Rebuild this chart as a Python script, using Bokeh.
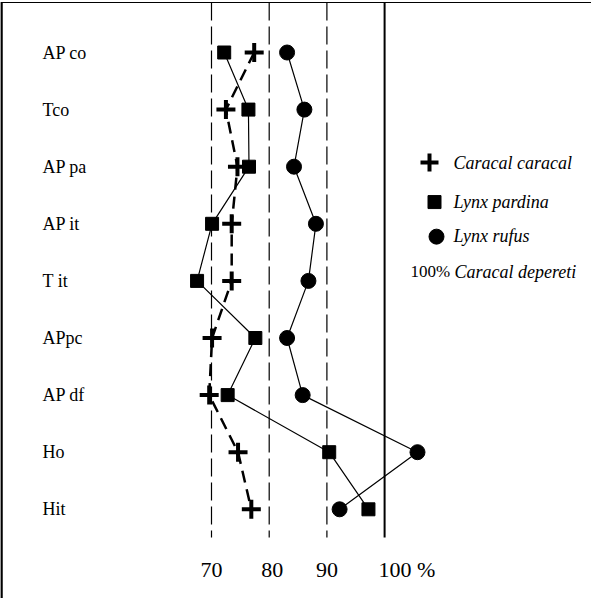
from bokeh.plotting import figure
from bokeh.models import Range1d, ColumnDataSource
from bokeh.core.properties import value
from bokeh.embed import file_html
from bokeh.resources import INLINE

# ---------------- data ----------------
rows = ["AP co", "Tco", "AP pa", "AP it", "T it", "APpc", "AP df", "Ho", "Hit"]
caracal_caracal = [77.4, 72.5, 74.5, 73.5, 73.5, 70.1, 69.6, 74.6, 76.9]
lynx_pardina = [72.2, 76.4, 76.5, 70.1, 67.5, 77.6, 72.8, 90.4, 97.2]
lynx_rufus = [83.1, 86.1, 84.3, 88.1, 86.8, 83.1, 85.8, 105.7, 92.2]
dashed_refs = [70, 80, 90]
solid_ref = [100]
tick_values = [70, 80, 90, 100]
tick_labels = ["70", "80", "90", "100 %"]
legend_names = ["Caracal caracal", "Lynx pardina", "Lynx rufus"]
note_prefix = "100%"
note_species = "Caracal depereti"

# ---------------- layout helpers (page pixels -> data) ----------------
W, H = 591, 598
PX70, PPU = 219.0, 5.77     # x pixel of value 70, pixels per unit
PY0, PPR = 60.0, 57.1       # y pixel of first row, pixels per row


def dx(px):
    return 70 + (px - PX70) / PPU


def dy(py):
    return (py - PY0) / PPR


p = figure(width=W, height=H, output_backend="svg", toolbar_location=None,
           x_range=Range1d(dx(8), dx(8 + W)), y_range=Range1d(dy(8 + H), dy(8)),
           min_border=0, outline_line_color=None)
p.axis.visible = False
p.grid.visible = False
p.background_fill_color = "white"

serif = value("Liberation Serif")
idx = list(range(len(rows)))

# frame lines (left and top)
p.segment(x0=[dx(9), dx(8)], y0=[dy(10), dy(10)], x1=[dx(9), dx(8 + W)], y1=[dy(8 + H), dy(10)],
          line_color="black", line_width=[2.5, 1.2])

# reference lines
top, bottom = dy(10), dy(545)
p.segment(x0=dashed_refs, x1=dashed_refs, y0=[top] * len(dashed_refs), y1=[bottom] * len(dashed_refs),
          line_color="black", line_width=1.2, line_dash="18 6")
p.segment(x0=solid_ref, x1=solid_ref, y0=[top], y1=[bottom], line_color="black", line_width=2)

# series lines
p.line(caracal_caracal, idx, line_color="black", line_width=2.5, line_dash="12 7")
p.line(lynx_pardina, idx, line_color="black", line_width=1.2)
p.line(lynx_rufus, idx, line_color="black", line_width=1.2)

# markers
p.scatter(caracal_caracal, idx, marker="cross", size=19, line_color="black", line_width=4)
p.scatter(lynx_pardina, idx, marker="square", size=13, fill_color="black", line_color="black")
p.scatter(lynx_rufus, idx, marker="circle", size=15, fill_color="black", line_color="black")

# row labels
p.text(x=[dx(50)] * len(rows), y=idx, text=rows, text_font=serif, text_font_size="18px",
       text_align="left", text_baseline="middle", text_color="black")

# tick labels
tick_src = ColumnDataSource(dict(
    x=tick_values, y=[dy(577)] * len(tick_values), t=tick_labels,
    align=["center", "center", "center", "left"],
    xoff=[0, 3, 0, -6]))
p.text(x="x", y="y", text="t", source=tick_src, text_font=serif, text_font_size="22px",
       text_align="align", x_offset="xoff", text_baseline="middle", text_color="black")

# legend (manual)
leg_y = [dy(170), dy(209), dy(243)]
p.scatter([dx(437)], [leg_y[0]], marker="cross", size=18, line_color="black", line_width=4)
p.scatter([dx(442)], [leg_y[1] + 0.01], marker="square", size=13, fill_color="black", line_color="black")
p.scatter([dx(444)], [leg_y[2] + 0.02], marker="circle", size=15, fill_color="black", line_color="black")
p.text(x=[dx(461)] * 3, y=leg_y, text=legend_names, text_font=serif, text_font_size="18px",
       text_font_style="italic", text_align="left", text_baseline="middle", text_color="black")
p.text(x=[dx(418)], y=[dy(279)], text=[note_prefix], text_font=serif, text_font_size="17px",
       text_align="left", text_baseline="middle", text_color="black")
p.text(x=[dx(462)], y=[dy(279)], text=[note_species], text_font=serif, text_font_size="18px",
       text_font_style="italic", text_align="left", text_baseline="middle", text_color="black")

open("out.html", "w").write(file_html(p, INLINE))
